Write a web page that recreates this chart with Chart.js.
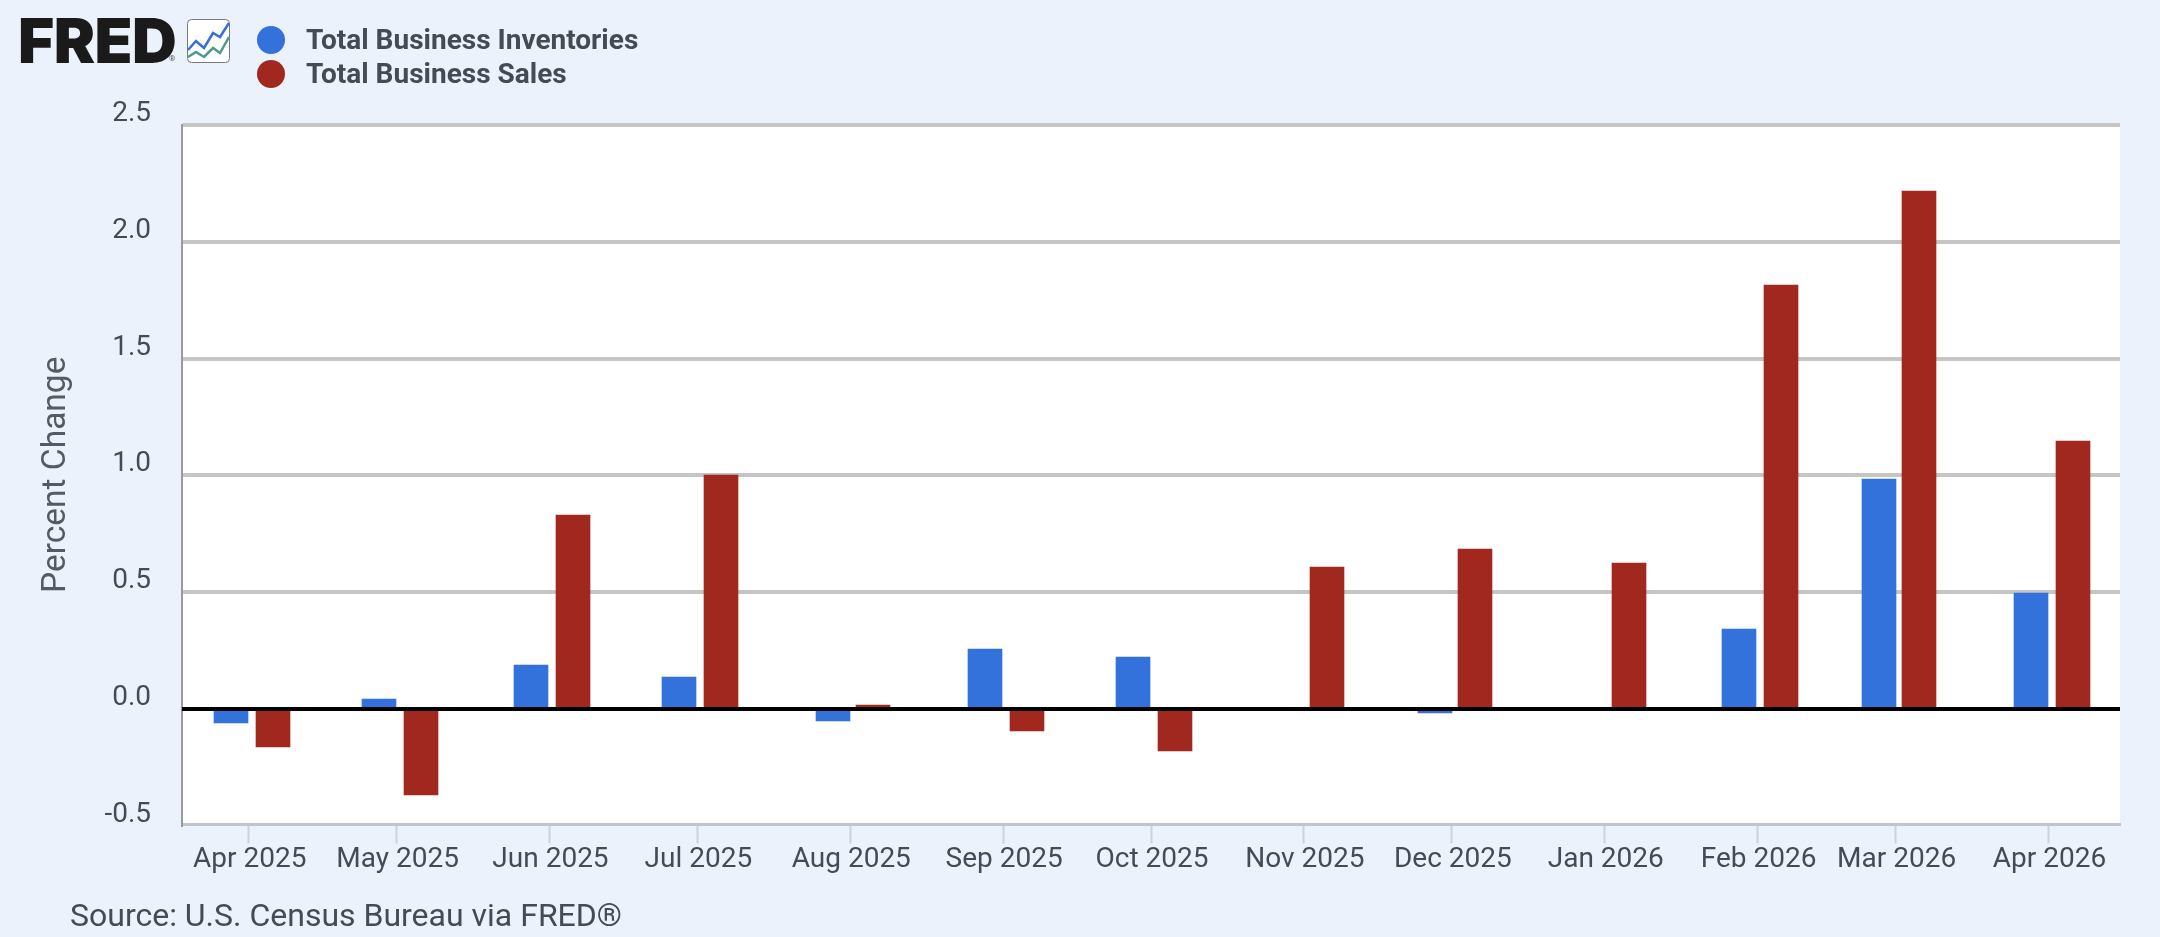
<!DOCTYPE html>
<html>
<head>
<meta charset="utf-8">
<title>Total Business Inventories and Sales</title>
<script src="https://cdn.jsdelivr.net/npm/chart.js@4/dist/chart.umd.min.js"></script>
<style>
  html, body { margin: 0; padding: 0; background: #ebf2fb; }
  #wrap { position: relative; width: 2160px; height: 937px; overflow: hidden; font-family: Roboto, sans-serif; color: #444b53; }
  #chart { position: absolute; left: 0; top: 0; }
  #logo { position: absolute; left: 18px; top: 5px; font: 900 62px/72px Inter, sans-serif; letter-spacing: -0.5px; color: #1b1a1b; }
  #reg { position: absolute; left: 169px; top: 54px; font: 400 8px/10px Roboto, sans-serif; color: #555; }
  #icon { position: absolute; left: 187px; top: 19px; }
  .key { position: absolute; left: 257px; height: 34px; line-height: 34px; font-weight: 700; font-size: 28px; white-space: nowrap; }
  .key i { display: inline-block; width: 28px; height: 28px; border-radius: 50%; vertical-align: -5px; margin-right: 21px; }
  #source { position: absolute; left: 70px; top: 897px; font-size: 32px; line-height: 36px; white-space: nowrap; }
</style>
</head>
<body>
<div id="wrap">
  <canvas id="chart" width="2160" height="937"></canvas>
  <div id="logo">FRED</div>
  <div id="reg">®</div>
  <svg id="icon" width="43" height="44" viewBox="0 0 43 44">
    <rect x="0.5" y="0.5" width="42" height="43" rx="4" fill="#fff" stroke="#77797c"/>
    <polyline points="1,31 9,22 17,29 26,14 33,18 42,4" fill="none" stroke="#3470d8" stroke-width="2.5"/>
    <polyline points="1,38 9,33 17,38 26,29 33,34 42,18" fill="none" stroke="#4e9a8e" stroke-width="2.5"/>
  </svg>
  <div class="key" style="top:23px"><i id="keyInv"></i>Total Business Inventories</div>
  <div class="key" style="top:57px"><i id="keySales"></i>Total Business Sales</div>
  <div id="source">Source: U.S. Census Bureau via FRED®</div>
</div>
<script>
var months = ['Apr 2025','May 2025','Jun 2025','Jul 2025','Aug 2025','Sep 2025','Oct 2025','Nov 2025','Dec 2025','Jan 2026','Feb 2026','Mar 2026','Apr 2026'];
var monthStarts = ['2025-04-01','2025-05-01','2025-06-01','2025-07-01','2025-08-01','2025-09-01','2025-10-01','2025-11-01','2025-12-01','2026-01-01','2026-02-01','2026-03-01','2026-04-01'];
var inventories = [-0.06, 0.043, 0.188, 0.137, -0.051, 0.257, 0.223, 0, -0.017, 0, 0.342, 0.985, 0.497];
var sales = [-0.161, -0.367, 0.83, 1.0, 0.017, -0.094, -0.18, 0.608, 0.685, 0.625, 1.815, 2.217, 1.147];
var yTicks = [-0.5, 0, 0.5, 1, 1.5, 2, 2.5];

var BLUE = '#3371db', RED = '#a0281f';
var TEXT = '#444b53';
document.getElementById('keyInv').style.background = BLUE;
document.getElementById('keySales').style.background = RED;

// x axis is in days from the first month, so month widths stay true to the calendar
var DAY = 86400000;
var firstDay = Date.parse(monthStarts[0]);
var monthDays = monthStarts.map(function(d) { return (Date.parse(d) - firstDay) / DAY; });

// the two bars sit either side of the month tick
var INV_SHIFT = -3.5713, SALES_SHIFT = 4.786;
function series(values, shift) {
    return values.map(function(v, i) { return { x: monthDays[i] + shift, y: v }; });
}

var BAR_W = 34;

var plotBackground = {
    id: 'plotBackground',
    beforeDraw: function(chart) {
        var a = chart.chartArea;
        chart.ctx.fillStyle = '#ffffff';
        chart.ctx.fillRect(a.left, a.top, a.right - a.left, a.bottom - a.top);
    }
};

// keep bars on whole pixels so their edges stay sharp
var crispBars = {
    id: 'crispBars',
    afterDatasetsUpdate: function(chart) {
        chart.data.datasets.forEach(function(ds, i) {
            chart.getDatasetMeta(i).data.forEach(function(bar) {
                bar.x = 2 * Math.round((bar.x - BAR_W / 2) / 2) + BAR_W / 2;
                bar.y = Math.round(bar.y);
                bar.base = Math.round(bar.base);
            });
        });
    }
};

// zero line goes over the bars, the other grid lines under them
var zeroLine = {
    id: 'zeroLine',
    afterDatasetsDraw: function(chart) {
        var a = chart.chartArea, y = Math.round(chart.scales.y.getPixelForValue(0)), ctx = chart.ctx;
        ctx.save();
        ctx.fillStyle = '#000000';
        ctx.fillRect(a.left, y - 2, a.right - a.left, 4);
        ctx.restore();
    }
};

new Chart(document.getElementById('chart'), {
    type: 'bar',
    data: {
        datasets: [
            { label: 'Total Business Inventories', data: series(inventories, INV_SHIFT), backgroundColor: BLUE },
            { label: 'Total Business Sales', data: series(sales, SALES_SHIFT), backgroundColor: RED }
        ]
    },
    plugins: [plotBackground, crispBars, zeroLine],
    options: {
        responsive: false,
        animation: false,
        grouped: false,
        barThickness: BAR_W,
        layout: { padding: { top: 125, right: 40, left: 0, bottom: 0 } },
        plugins: { legend: { display: false }, tooltip: { enabled: false } },
        scales: {
            x: {
                type: 'linear',
                offset: false,
                min: -13.525,
                max: 379.5,
                afterFit: function(scale) { scale.height = 112.5; },
                afterBuildTicks: function(scale) {
                    scale.ticks = monthDays.map(function(d) { return { value: d }; });
                },
                border: { display: true, color: '#c0c4cc', width: 3 },
                grid: { offset: false, drawOnChartArea: false, drawTicks: true, tickLength: 19, tickWidth: 2, tickColor: '#cdd3dd' },
                ticks: {
                    autoSkip: false,
                    maxRotation: 0,
                    padding: 0,
                    labelOffset: 1,
                    color: TEXT,
                    font: { family: 'Roboto', size: 28 },
                    callback: function(value, index) { return months[index]; }
                }
            },
            y: {
                min: -0.4944,
                max: 2.5,
                afterFit: function(scale) { scale.width = 182; },
                afterBuildTicks: function(scale) {
                    scale.ticks = yTicks.map(function(v) { return { value: v }; });
                },
                border: { display: true, color: '#9a9a9a', width: 2 },
                grid: {
                    lineWidth: 4,
                    drawTicks: false,
                    tickLength: 0,
                    color: function(ctx) {
                        var v = ctx.tick ? ctx.tick.value : 1;
                        return v <= 0 ? 'rgba(0,0,0,0)' : '#c5c5c5';
                    }
                },
                ticks: {
                    padding: 31,
                    labelOffset: -11,
                    color: TEXT,
                    font: { family: 'Roboto', size: 28 },
                    callback: function(value) { return value.toFixed(1); }
                },
                title: {
                    display: true,
                    text: 'Percent Change',
                    color: '#555b62',
                    font: { family: 'Roboto', size: 33.5 },
                    padding: { top: 37, bottom: 0 }
                }
            }
        }
    }
});
</script>
</body>
</html>
